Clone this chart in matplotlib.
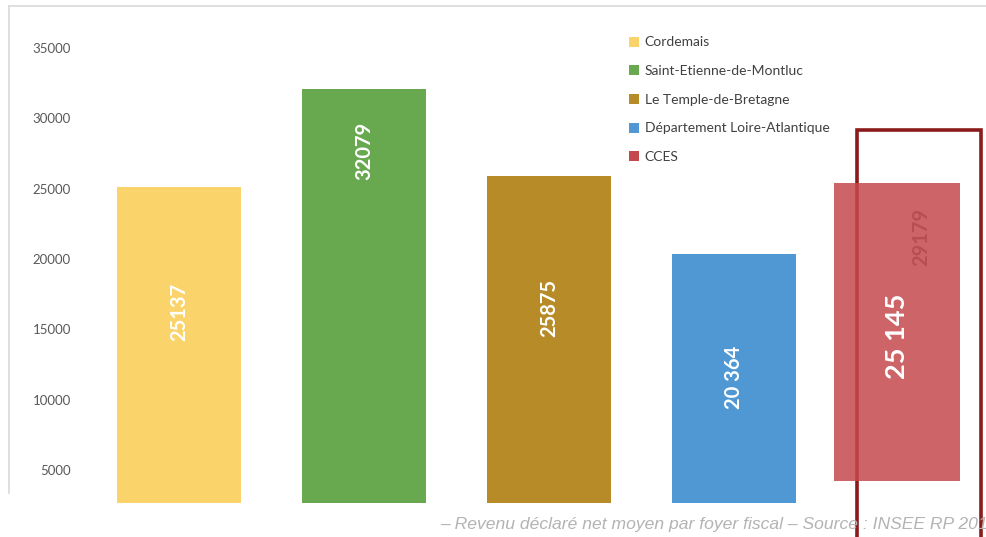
import matplotlib.pyplot as plt
from matplotlib.patches import Patch
from matplotlib.lines import Line2D

# Data
communes = ["Cordemais", "Saint-Etienne-de-Montluc", "Le Temple-de-Bretagne",
            "Département Loire-Atlantique", "CCES"]
revenus = [25137, 32079, 25875, 20364]
labels = ["25137", "32079", "25875", "20 364"]
label_y = [16200, 27700, 16500, 11600]   # where the numbers sit inside the bars

# CCES column: original bar (outline only) and the pasted red block over it
cces_old = 29179
cces_block = [4200, 25430]   # bottom, top
cces_label = "25 145"

colors = ["#FAD46A", "#68A84F", "#B78C28", "#4F98D4", "#C4494D"]
yticks = [5000, 10000, 15000, 20000, 25000, 30000, 35000]

plt.rcParams['font.family'] = ['Lato', 'DejaVu Sans']

fig = plt.figure(figsize=(9.87, 5.37), dpi=100)
ax = fig.add_axes([80 / 987, 1 - 503 / 537, 907 / 987, 455 / 537])

# regular bars
for i, v in enumerate(revenus):
    ax.bar(i, v, width=0.67, color=colors[i], zorder=2)
    ax.text(i, label_y[i], labels[i], rotation=90, ha='center', va='center',
            color='white', fontsize=14.5, fontweight='bold', zorder=4)

# CCES: outline of the original bar, then the semi transparent block
ax.bar(4, cces_old, width=0.67, bottom=0, fill=False, edgecolor='#8B1A1A',
       linewidth=2.6, clip_on=False, zorder=3)
ax.bar(4 - 0.12, cces_block[1] - cces_block[0], width=0.68, bottom=cces_block[0],
       color=colors[4], alpha=0.85, zorder=3.5)
ax.text(4.01, 21570, str(cces_old), rotation=90, ha='center', va='center',
        color='#B0474C', fontsize=14.5, fontweight='bold', alpha=0.75, zorder=4)
ax.text(4 - 0.12, 14500, cces_label, rotation=90, ha='center', va='center',
        color='white', fontsize=19.5, fontweight='bold', zorder=4)

ax.set_ylim(2643, 35000)
ax.set_xlim(-0.535, 4.368)
ax.set_yticks(yticks)
ax.set_yticklabels([str(t) for t in yticks])
ax.set_xticks([])
ax.tick_params(axis='y', length=0, pad=6.5, labelsize=9.5, labelcolor='#595959')
for s in ax.spines.values():
    s.set_visible(False)

# legend
handles = [Patch(facecolor=c, edgecolor='none') for c in colors]
fig.legend(handles, communes, loc='upper left', bbox_to_anchor=(617 / 987, 1 - 24 / 537),
           frameon=False, fontsize=10, labelcolor='#404040', handlelength=0.7,
           handleheight=0.7, handletextpad=0.4, labelspacing=1.2)

# outer chart frame (top and left side visible)
fig.add_artist(Line2D([9 / 987, 1], [1 - 6 / 537, 1 - 6 / 537], transform=fig.transFigure,
                      color='#D9D9D9', linewidth=1.2))
fig.add_artist(Line2D([9 / 987, 9 / 987], [1 - 6 / 537, 1 - 493 / 537],
                      transform=fig.transFigure, color='#D9D9D9', linewidth=1.2))

# source note
fig.text(440 / 987, 1 - 524 / 537,
         "– Revenu déclaré net moyen par foyer fiscal – Source : INSEE RP 201",
         family=['Liberation Sans', 'DejaVu Sans'], style='italic', fontsize=12.6,
         color='#B3B3B3', va='center', ha='left')

fig.savefig("out.png", dpi=100)
